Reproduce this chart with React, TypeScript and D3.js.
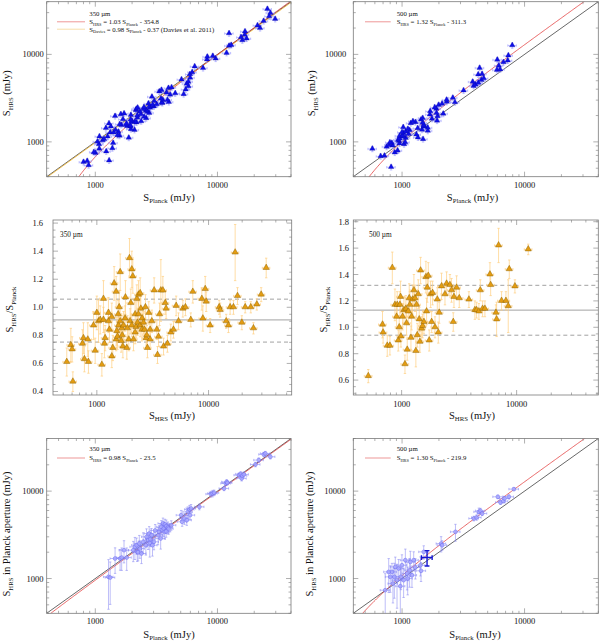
import * as d3 from "d3";

const FONT = "'Liberation Serif', 'DejaVu Serif', 'Times New Roman', serif";

// 350 µm sources: [S_HRS (mJy), S_HRS/S_Planck, error on ratio]
const RATIO_350: [number, number, number][] = [
  [538, 0.61, 0.1], [585, 0.73, 0.12], [601, 0.7, 0.09], [610, 0.47, 0.07], [743, 0.74, 0.1],
  [759, 0.78, 0.11], [774, 0.63, 0.09], [830, 0.77, 0.12], [841, 0.61, 0.08], [933, 0.87, 0.1],
  [966, 0.69, 0.09], [1000, 0.96, 0.12], [1035, 0.9, 0.15], [1072, 0.91, 0.1], [1109, 0.59, 0.08],
  [1146, 1.06, 0.13], [1146, 0.91, 0.09], [1169, 0.74, 0.1], [1186, 0.78, 0.09], [1271, 0.96, 0.11],
  [1271, 0.9, 0.08], [1297, 0.84, 0.09], [1361, 0.65, 0.08], [1361, 0.93, 0.1], [1390, 0.71, 0.09],
  [1429, 1.17, 0.12], [1489, 1.11, 0.11], [1489, 0.77, 0.08], [1510, 0.83, 0.1], [1531, 0.79, 0.09],
  [1552, 0.95, 0.1], [1563, 0.87, 0.08], [1585, 1.0, 0.12], [1618, 1.25, 0.13], [1618, 0.9, 0.09],
  [1652, 0.76, 0.08], [1675, 0.85, 0.09], [1687, 0.8, 0.08], [1710, 0.72, 0.08], [1734, 0.87, 0.1],
  [1791, 0.92, 0.09], [1803, 1.07, 0.12], [1854, 0.71, 0.08], [1879, 0.85, 0.09], [1932, 0.77, 0.08],
  [1959, 1.35, 0.14], [1986, 0.9, 0.09], [2014, 1.03, 0.1], [2056, 1.27, 0.13], [2056, 0.87, 0.08],
  [2099, 1.22, 0.12], [2128, 0.77, 0.08], [2203, 0.82, 0.08], [2203, 0.95, 0.09], [2249, 0.86, 0.08],
  [2280, 1.06, 0.1], [2312, 0.89, 0.09], [2360, 1.09, 0.1], [2360, 0.95, 0.09], [2443, 1.1, 0.11],
  [2443, 0.87, 0.08], [2477, 0.99, 0.09], [2529, 0.84, 0.08], [2547, 0.92, 0.08], [2618, 0.89, 0.08],
  [2673, 0.84, 0.07], [2723, 1.0, 0.09], [2761, 0.78, 0.07], [2799, 0.8, 0.07], [2838, 0.71, 0.07],
  [2917, 0.96, 0.08], [2999, 0.84, 0.07], [2999, 0.77, 0.07], [3105, 0.9, 0.08], [3258, 1.12, 0.09],
  [3443, 0.84, 0.07], [3491, 0.66, 0.06], [3565, 0.79, 0.07], [3639, 0.95, 0.08], [3741, 1.12, 0.22],
  [3899, 1.12, 0.1], [3954, 0.72, 0.06], [4093, 1.03, 0.08], [4169, 0.99, 0.07], [4285, 0.74, 0.06],
  [4592, 0.82, 0.06], [4853, 0.84, 0.06], [5129, 1.01, 0.07], [5383, 0.9, 0.06], [5888, 0.99, 0.06],
  [6209, 1.0, 0.06], [6934, 0.91, 0.05], [7228, 1.11, 0.08], [8710, 1.06, 0.08], [8892, 0.92, 0.09],
  [9333, 1.13, 0.09], [9528, 1.04, 0.07], [10330, 0.87, 0.05], [12450, 1.0, 0.05], [12700, 0.98, 0.05],
  [14390, 0.9, 0.05], [15070, 0.87, 0.05], [15600, 1.0, 0.05], [16710, 1.0, 0.05], [17300, 1.39, 0.2],
  [18160, 1.08, 0.06], [19860, 0.89, 0.05], [21280, 1.0, 0.04], [23880, 1.0, 0.04], [25230, 0.85, 0.04],
  [27040, 1.02, 0.04], [29580, 1.09, 0.05], [32810, 1.28, 0.07],
];

// 500 µm sources: [S_HRS (mJy), S_HRS/S_Planck, error on ratio]
const RATIO_500: [number, number, number][] = [
  [513, 0.63, 0.05], [682, 1.02, 0.1], [690, 0.96, 0.08], [750, 0.86, 0.08], [791, 0.86, 0.07],
  [830, 1.45, 0.12], [875, 1.17, 0.12], [904, 1.08, 0.09], [916, 1.17, 0.1], [935, 0.9, 0.08],
  [953, 1.0, 0.09], [966, 1.17, 0.1], [979, 1.23, 0.12], [986, 0.93, 0.08], [1019, 1.08, 0.1],
  [1047, 1.13, 0.1], [1069, 0.72, 0.07], [1089, 1.14, 0.1], [1104, 1.03, 0.09], [1119, 0.83, 0.08],
  [1143, 1.12, 0.1], [1164, 1.22, 0.11], [1180, 1.17, 0.1], [1205, 0.92, 0.09], [1222, 1.08, 0.1],
  [1245, 1.21, 0.11], [1279, 1.28, 0.12], [1306, 1.22, 0.1], [1330, 0.82, 0.12], [1349, 1.17, 0.1],
  [1368, 0.94, 0.09], [1396, 1.25, 0.11], [1422, 1.06, 0.09], [1442, 0.89, 0.08], [1462, 1.43, 0.1],
  [1493, 0.99, 0.09], [1521, 1.01, 0.09], [1563, 1.04, 0.09], [1626, 1.38, 0.12], [1648, 1.12, 0.1],
  [1671, 1.3, 0.11], [1706, 1.39, 0.1], [1738, 0.9, 0.08], [1786, 1.25, 0.1], [1824, 1.04, 0.08],
  [1858, 1.26, 0.09], [1950, 1.0, 0.08], [2042, 1.21, 0.09], [2084, 0.96, 0.08], [2123, 1.11, 0.08],
  [2223, 1.31, 0.1], [2382, 1.25, 0.08], [2460, 1.33, 0.09], [2630, 1.32, 0.08], [2716, 1.28, 0.09],
  [2812, 1.04, 0.07], [2851, 1.23, 0.08], [3006, 1.3, 0.09], [3170, 1.22, 0.07], [3846, 1.21, 0.06],
  [4335, 1.13, 0.07], [4487, 1.13, 0.06], [4699, 1.12, 0.06], [4831, 1.28, 0.08], [5058, 1.14, 0.06],
  [5297, 1.14, 0.06], [5861, 1.4, 0.09], [5943, 1.32, 0.08], [6607, 1.11, 0.06], [6699, 1.06, 0.13],
  [6966, 1.62, 0.13], [7396, 1.2, 0.07], [8072, 1.2, 0.07], [8453, 1.16, 0.2], [8630, 1.44, 0.07],
  [9661, 1.31, 0.05], [12620, 1.59, 0.04],
];

// HRS flux in Planck aperture: [S_Planck, S_HRS, error on S_HRS] (mJy)
const APER_350: [number, number, number][] = [
  [1282, 1045, 600], [1324, 1026, 520], [1452, 1694, 550], [1596, 1694, 450], [1644, 1738, 500],
  [1718, 2109, 600], [1807, 1738, 500], [2046, 2109, 550], [2109, 2301, 650], [2178, 2404, 500],
  [2203, 2018, 450], [2239, 1995, 400], [2291, 2512, 600], [2317, 2203, 500], [2388, 1932, 450],
  [2466, 2630, 700], [2594, 2404, 550], [2624, 2999, 700], [2710, 2748, 600], [2761, 3273, 650],
  [2793, 2559, 800], [2818, 2818, 500], [2884, 3133, 600], [2938, 2404, 600], [3020, 2630, 500],
  [3090, 3548, 600], [3266, 3133, 700], [3327, 3420, 600], [3428, 2871, 700], [3475, 3899, 700],
  [3540, 3573, 600], [3581, 4266, 650], [3631, 3733, 700], [3698, 3420, 600], [3715, 4169, 600],
  [3802, 3467, 500], [3811, 3972, 700], [3936, 3837, 600], [3981, 3715, 500], [4188, 4074, 500],
  [5047, 5309, 700], [5140, 4457, 500], [5370, 4864, 700], [5610, 4656, 600], [5715, 5794, 800],
  [5902, 6166, 700], [5970, 5309, 600], [6081, 6324, 700], [7112, 6607, 500], [8831, 9247, 700],
  [9120, 9397, 800], [9397, 9572, 700], [11320, 10720, 600], [11700, 12250, 700], [11890, 12740, 800],
  [12050, 12450, 700], [15000, 15240, 900], [15490, 15670, 1000], [15780, 13960, 900], [15960, 15000, 1000],
  [16440, 15520, 1100], [20460, 20180, 1200], [21780, 22650, 1300], [23930, 26300, 1500], [24660, 26980, 1500],
  [27100, 24720, 1400],
];

const APER_500: [number, number, number][] = [
  [729, 735, 400], [778, 1191, 500], [802, 1045, 350], [828, 1191, 300], [843, 875, 350],
  [865, 1045, 450], [881, 1358, 400], [910, 957, 500], [938, 1300, 350], [968, 817, 450],
  [979, 1045, 300], [998, 1419, 450], [1030, 957, 350], [1064, 1622, 550], [1099, 1140, 400],
  [1112, 1000, 350], [1153, 1245, 450], [1169, 1549, 500], [1205, 1091, 300], [1245, 1622, 400],
  [1285, 1337, 350], [1413, 1419, 350], [1429, 1225, 300], [1503, 2018, 350], [2084, 2512, 500],
  [2123, 2404, 300], [2729, 3420, 750], [3855, 4864, 300], [4055, 4989, 350], [4236, 5794, 600],
  [4365, 5957, 400], [4508, 5546, 300], [6053, 8610, 400], [6368, 7413, 350], [6699, 7674, 300],
  [6871, 8241, 400], [7447, 8610, 450], [8185, 10540, 400],
];

// typical error of the 500 µm sample: [S_Planck, S_HRS, err x, err y]
const TYPICAL_500 = [1600, 1738, 160, 345];

// fractional flux errors
const REL_ERR_HRS = 0.07;
const REL_ERR_PLANCK = 0.08;
const REL_ERR_APER_X = 0.09;

// linear fits S_HRS = a S_Planck + b
const FIT_350 = [1.03, -354.8];
const FIT_DAVIES = [0.98, -0.37];
const FIT_500 = [1.32, -311.3];
const FIT_APER_350 = [0.98, -23.5];
const FIT_APER_500 = [1.3, -219.9];

// ratio mean and ±1 sigma
const STATS_350 = [0.91, 1.058, 0.752];
const STATS_500 = [1.13, 1.318, 0.94];

type Box = { left: number; right: number; top: number; bottom: number };
type Seg = string | [string];

const C_FRAME = "#7a7a7a";
const LEG = 6.8;

function Rich({ x, y, size, segs, anchor = "start", rotate = false }: any) {
  let cur = 0;
  const off = size * 0.24;
  return (
    <text
      x={x}
      y={y}
      fontSize={size}
      fontFamily={FONT}
      textAnchor={anchor}
      fill="#111"
      transform={rotate ? `rotate(-90 ${x} ${y})` : undefined}
      style={{ whiteSpace: "pre" }}
    >
      {segs.map((s: Seg, i: number) => {
        const sub = Array.isArray(s);
        const t = sub ? s[0] : s;
        const target = sub ? off : 0;
        const dy = target - cur;
        cur = target;
        return (
          <tspan key={i} dy={dy} fontSize={sub ? size * 0.64 : size}>
            {t}
          </tspan>
        );
      })}
    </text>
  );
}

const isDecade = (v: number) => Math.abs(Math.log10(v) - Math.round(Math.log10(v))) < 1e-6;

function Panel(props: any) {
  const { id, box, xDom, yDom, yLog, yLabEnd, xLabY, xTitle, xTitleX, xTitleY, yTitle, yTitleX, yTitleY, children } = props;
  const b: Box = box;
  const x = d3.scaleLog().domain(xDom).range([b.left, b.right]);
  const y = yLog
    ? d3.scaleLog().domain(yDom).range([b.bottom, b.top])
    : d3.scaleLinear().domain(yDom).range([b.bottom, b.top]);

  const xt = x.ticks().map((v: number) => ({ v, major: isDecade(v) }));
  let yt: { v: number; major: boolean }[];
  if (yLog) {
    yt = (y as any).ticks().map((v: number) => ({ v, major: isDecade(v) }));
  } else {
    yt = d3.range(Math.ceil(yDom[0] * 20), Math.floor(yDom[1] * 20) + 1).map((k) => ({ v: k / 20, major: k % 4 === 0 }));
  }
  const fmtY = yLog ? (v: number) => String(v) : d3.format(".1f");
  const MAJ = 5;
  const MIN = 2.5;

  return (
    <g>
      <defs>
        <clipPath id={`clip-${id}`}>
          <rect x={b.left} y={b.top} width={b.right - b.left} height={b.bottom - b.top} />
        </clipPath>
      </defs>
      <g clipPath={`url(#clip-${id})`}>{children(x, y)}</g>
      <rect x={b.left} y={b.top} width={b.right - b.left} height={b.bottom - b.top} fill="none" stroke={C_FRAME} strokeWidth={0.8} />
      {xt.map((t: any, i: number) => {
        const px = x(t.v);
        const l = t.major ? MAJ : MIN;
        return (
          <g key={`x${i}`} stroke={C_FRAME} strokeWidth={0.6}>
            <line x1={px} x2={px} y1={b.bottom} y2={b.bottom - l} />
            <line x1={px} x2={px} y1={b.top} y2={b.top + l} />
          </g>
        );
      })}
      {yt.map((t: any, i: number) => {
        const py = y(t.v);
        const l = t.major ? MAJ : MIN;
        return (
          <g key={`y${i}`} stroke={C_FRAME} strokeWidth={0.6}>
            <line x1={b.left} x2={b.left + l} y1={py} y2={py} />
            <line x1={b.right} x2={b.right - l} y1={py} y2={py} />
          </g>
        );
      })}
      {xt.filter((t: any) => t.major).map((t: any, i: number) => (
        <text key={`xl${i}`} x={x(t.v)} y={xLabY} fontSize={8.5} fontFamily={FONT} textAnchor="middle" fill="#111">
          {String(t.v)}
        </text>
      ))}
      {yt.filter((t: any) => t.major).map((t: any, i: number) => (
        <text key={`yl${i}`} x={yLabEnd} y={y(t.v) + 3} fontSize={8.5} fontFamily={FONT} textAnchor="end" fill="#111">
          {fmtY(t.v)}
        </text>
      ))}
      <Rich x={xTitleX} y={xTitleY} size={10.5} segs={xTitle} anchor="middle" />
      <Rich x={yTitleX} y={yTitleY} size={10.5} segs={yTitle} anchor="middle" rotate />
    </g>
  );
}

const triangle = (size: number) => d3.symbol().type(d3.symbolTriangle).size(size)() as string;

function fitPath(x: any, y: any, fit: number[], dom: number[]) {
  const n = 200;
  const l0 = Math.log10(dom[0]);
  const l1 = Math.log10(dom[1]);
  const pts = d3
    .range(n + 1)
    .map((i) => 10 ** (l0 + ((l1 - l0) * i) / n))
    .map((v) => [v, fit[0] * v + fit[1]])
    .filter((p) => p[1] > 1);
  return d3.line<number[]>().x((p) => x(p[0])).y((p) => y(p[1]))(pts) as string;
}

// lower error bar ends stay positive for log axes
const yFloor = (v: number) => (v > 50 ? 1 : 0);

function ErrorBars({ pts, x, y, color, width = 0.6, cap = 1.2 }: any) {
  return (
    <g stroke={color} strokeWidth={width} fill="none">
      {pts.map((p: any, i: number) => {
        const cx = x(p.x);
        const cy = y(p.y);
        const xa = x(Math.max(p.x - p.ex, 1));
        const xb = x(p.x + p.ex);
        const ya = y(Math.max(p.y - p.ey, yFloor(p.y)));
        const yb = y(p.y + p.ey);
        return (
          <g key={i}>
            <line x1={xa} x2={xb} y1={cy} y2={cy} />
            <line x1={cx} x2={cx} y1={ya} y2={yb} />
            <line x1={xa} x2={xa} y1={cy - cap} y2={cy + cap} />
            <line x1={xb} x2={xb} y1={cy - cap} y2={cy + cap} />
            <line x1={cx - cap} x2={cx + cap} y1={ya} y2={ya} />
            <line x1={cx - cap} x2={cx + cap} y1={yb} y2={yb} />
          </g>
        );
      })}
    </g>
  );
}

function FluxPanel({ id, box, ratio, fit, davies, label }: any) {
  const pts = ratio.map(([s, r]: number[]) => ({
    x: s / r,
    y: s,
    ex: (s / r) * REL_ERR_PLANCK,
    ey: s * REL_ERR_HRS,
  }));
  const tri = triangle(13);
  const lx0 = box.left + (id === "p1" ? 10.3 : 11.7);
  const lx1 = lx0 + (id === "p1" ? 28 : 25.7);
  const tx = lx1 + (id === "p1" ? 4.3 : 6);
  return (
    <Panel
      id={id}
      box={box}
      xDom={[400, 40000]}
      yDom={[400, 40000]}
      yLog
      yLabEnd={box.left - (id === "p1" ? 3 : 7)}
      xLabY={188}
      xTitle={["S", ["Planck"], " (mJy)"]}
      xTitleX={id === "p1" ? 169 : 472.5}
      xTitleY={200.5}
      yTitle={["S", ["HRS"], " (mJy)"]}
      yTitleX={id === "p1" ? 10 : 315}
      yTitleY={(box.top + box.bottom) / 2 + 4}
    >
      {(x: any, y: any) => (
        <g>
          <line x1={x(400)} y1={y(400)} x2={x(40000)} y2={y(40000)} stroke="#000" strokeWidth={0.6} />
          {davies && <path d={fitPath(x, y, davies, [400, 40000])} fill="none" stroke="#f0b020" strokeWidth={0.8} />}
          <path d={fitPath(x, y, fit, [400, 40000])} fill="none" stroke="#e02828" strokeWidth={0.7} />
          <ErrorBars pts={pts} x={x} y={y} color="#9a9aff" />
          {pts.map((p: any, i: number) => (
            <path key={i} d={tri} transform={`translate(${x(p.x)},${y(p.y) - 0.3})`} fill="#1010e8" stroke="#0000a0" strokeWidth={0.3} />
          ))}
          <Rich x={tx} y={15.8} size={LEG} segs={[label]} />
          <line x1={lx0} x2={lx1} y1={21.8} y2={21.8} stroke="#e05050" strokeWidth={0.6} />
          <Rich x={tx} y={24.1} size={LEG} segs={["S", ["HRS"], ` = ${fit[0].toFixed(2)} S`, ["Planck"], ` - ${Math.abs(fit[1]).toFixed(1)}`]} />
          {davies && (
            <>
              <line x1={lx0} x2={lx1} y1={29.2} y2={29.2} stroke="#f2c870" strokeWidth={0.6} />
              <Rich
                x={tx}
                y={31.6}
                size={LEG}
                segs={["S", ["Davies"], ` = ${davies[0].toFixed(2)} S`, ["Planck"], ` - ${Math.abs(davies[1]).toFixed(2)} (Davies et al. 2011)`]}
              />
            </>
          )}
        </g>
      )}
    </Panel>
  );
}

function RatioPanel({ id, box, ratio, xDom, yDom, stats, label, labelX }: any) {
  const pts = ratio.map(([s, r, e]: number[]) => ({ x: s, y: r, ex: s * REL_ERR_HRS * 1.1, ey: e }));
  const tri = triangle(17);
  return (
    <Panel
      id={id}
      box={box}
      xDom={xDom}
      yDom={yDom}
      yLog={false}
      yLabEnd={id === "p3" ? 43 : 349}
      xLabY={406.5}
      xTitle={["S", ["HRS"], " (mJy)"]}
      xTitleX={id === "p3" ? 172 : 472}
      xTitleY={418.5}
      yTitle={["S", ["HRS"], "/S", ["Planck"]]}
      yTitleX={id === "p3" ? 13 : 327}
      yTitleY={(box.top + box.bottom) / 2 + 2}
    >
      {(x: any, y: any) => (
        <g>
          <line x1={box.left} x2={box.right} y1={y(stats[0])} y2={y(stats[0])} stroke="#8a8a8a" strokeWidth={0.8} />
          <line x1={box.left} x2={box.right} y1={y(stats[1])} y2={y(stats[1])} stroke="#8a8a8a" strokeWidth={0.8} strokeDasharray="4,3" />
          <line x1={box.left} x2={box.right} y1={y(stats[2])} y2={y(stats[2])} stroke="#8a8a8a" strokeWidth={0.8} strokeDasharray="4,3" />
          <ErrorBars pts={pts} x={x} y={y} color="#ffcf80" width={0.7} />
          {pts.map((p: any, i: number) => (
            <path key={i} d={tri} transform={`translate(${x(p.x)},${y(p.y) - 0.3})`} fill="#e39c12" stroke="#8c6200" strokeWidth={0.45} />
          ))}
          <Rich x={labelX} y={237} size={7.3} segs={[label]} />
        </g>
      )}
    </Panel>
  );
}

function AperPanel({ id, box, data, fit, label, typical }: any) {
  const pts = data.map(([sp, sh, e]: number[]) => ({ x: sp, y: sh, ex: sp * REL_ERR_APER_X, ey: e }));
  const lx0 = box.left + (id === "p5" ? 10.3 : 11.7);
  const lx1 = lx0 + (id === "p5" ? 28 : 25.7);
  const tx = lx1 + (id === "p5" ? 4.3 : 6);
  return (
    <Panel
      id={id}
      box={box}
      xDom={[400, 40000]}
      yDom={[400, 40000]}
      yLog
      yLabEnd={id === "p5" ? 43.5 : 345.5}
      xLabY={623.5}
      xTitle={["S", ["Planck"], " (mJy)"]}
      xTitleX={id === "p5" ? 169 : 475}
      xTitleY={637.5}
      yTitle={["S", ["HRS"], " in Planck aperture (mJy)"]}
      yTitleX={id === "p5" ? 10 : 313}
      yTitleY={534}
    >
      {(x: any, y: any) => (
        <g>
          <line x1={x(400)} y1={y(400)} x2={x(40000)} y2={y(40000)} stroke="#000" strokeWidth={0.6} />
          <path d={fitPath(x, y, fit, [400, 40000])} fill="none" stroke="#e02828" strokeWidth={0.7} />
          <ErrorBars pts={pts} x={x} y={y} color="#8888f2" width={0.55} />
          {pts.map((p: any, i: number) => (
            <circle key={i} cx={x(p.x)} cy={y(p.y)} r={1.9} fill="#a8a8ff" stroke="#6a6af0" strokeWidth={0.5} fillOpacity={0.8} />
          ))}
          {typical && (
            <ErrorBars
              pts={[{ x: typical[0], y: typical[1], ex: typical[2], ey: typical[3] }]}
              x={x}
              y={y}
              color="#1414d2"
              width={1.4}
              cap={2.4}
            />
          )}
          <Rich x={tx} y={451.2} size={LEG} segs={[label]} />
          <line x1={lx0} x2={lx1} y1={458} y2={458} stroke="#e05050" strokeWidth={0.6} />
          <Rich x={tx} y={460.3} size={LEG} segs={["S", ["HRS"], ` = ${fit[0].toFixed(2)} S`, ["Planck"], ` - ${Math.abs(fit[1]).toFixed(1)}`]} />
        </g>
      )}
    </Panel>
  );
}

export default function App() {
  const W = 600;
  const H = 641;
  return (
    <svg width={W} height={H} style={{ position: "absolute", left: 0, top: 0, background: "#fff" }}>
      <FluxPanel id="p1" box={{ left: 46.7, right: 291, top: 1.7, bottom: 176.7 }} ratio={RATIO_350} fit={FIT_350} davies={FIT_DAVIES} label="350 µm" />
      <FluxPanel id="p2" box={{ left: 353.3, right: 598.3, top: 1.7, bottom: 176.7 }} ratio={RATIO_500} fit={FIT_500} label="500 µm" />
      <RatioPanel
        id="p3"
        box={{ left: 53, right: 291.7, top: 220, bottom: 395 }}
        ratio={RATIO_350}
        xDom={[405, 55500]}
        yDom={[0.375, 1.622]}
        stats={STATS_350}
        label="350 µm"
        labelX={60}
      />
      <RatioPanel
        id="p4"
        box={{ left: 353.3, right: 598.3, top: 220, bottom: 395 }}
        ratio={RATIO_500}
        xDom={[380, 51300]}
        yDom={[0.487, 1.813]}
        stats={STATS_500}
        label="500 µm"
        labelX={369}
      />
      <AperPanel id="p5" box={{ left: 46.7, right: 291, top: 438.5, bottom: 613.3 }} data={APER_350} fit={FIT_APER_350} label="350 µm" />
      <AperPanel
        id="p6"
        box={{ left: 353.3, right: 598.3, top: 438.5, bottom: 613.3 }}
        data={APER_500}
        fit={FIT_APER_500}
        label="500 µm"
        typical={TYPICAL_500}
      />
    </svg>
  );
}
